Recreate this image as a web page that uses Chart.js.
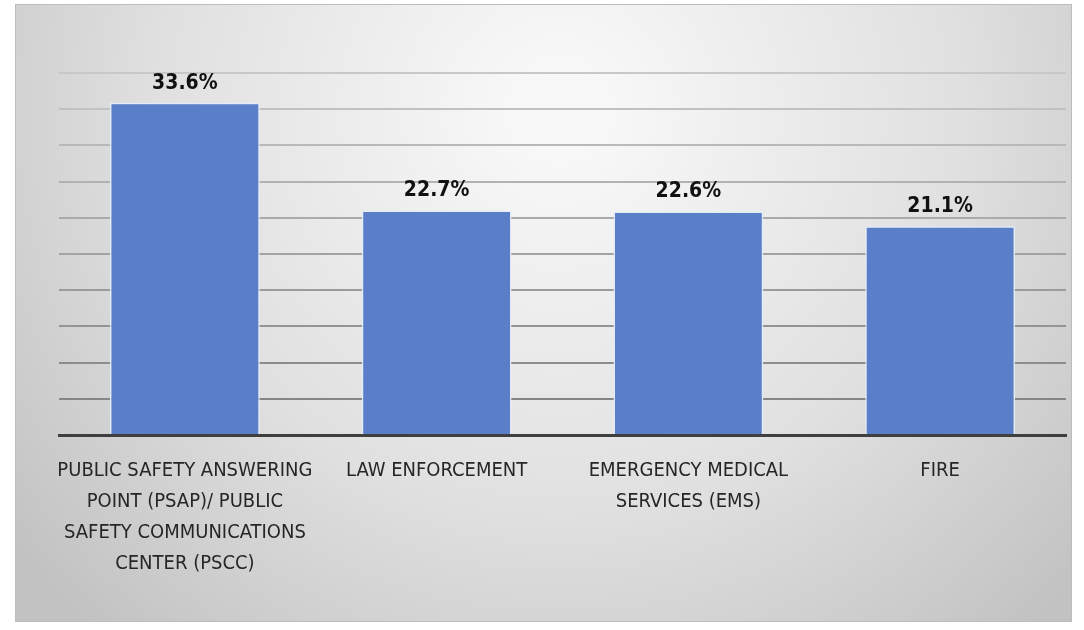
<!DOCTYPE html>
<html>
<head>
<meta charset="utf-8">
<script src="https://cdn.jsdelivr.net/npm/chart.js@4"></script>
<style>
  html, body { margin: 0; padding: 0; background: #fff; }
  #wrap { width: 1084px; height: 630px; position: relative; }
</style>
</head>
<body>
<div id="wrap"><canvas id="chartBar"></canvas></div>
<script>
// categories, one array per wrapped label
const categories = [
    ['PUBLIC SAFETY ANSWERING', 'POINT (PSAP)/ PUBLIC', 'SAFETY COMMUNICATIONS', 'CENTER (PSCC)'],
    ['LAW ENFORCEMENT'],
    ['EMERGENCY MEDICAL', 'SERVICES (EMS)'],
    ['FIRE']
]
const shares = [33.6, 22.7, 22.6, 21.1]
const axisMax = 36.6 // top gridline
const gridCount = 11

const FONT = '"Liberation Sans Narrow", "DejaVu Sans Condensed", "Liberation Sans", sans-serif'

// grey panel with a soft radial light, like the office chart area
const panelBg = {
    id: 'panelBg',
    beforeDraw(chart) {
        const c = chart.ctx
        const x0 = 15, y0 = 4, x1 = 1072, y1 = 622
        c.save()
        const g = c.createRadialGradient(560, 110, 40, 560, 110, 700)
        g.addColorStop(0, '#f8f8f8')
        g.addColorStop(0.55, '#e0e0e0')
        g.addColorStop(1, '#c2c2c2')
        c.fillStyle = g
        c.fillRect(x0, y0, x1 - x0, y1 - y0)
        c.strokeStyle = '#bdbdbd'
        c.lineWidth = 1
        c.strokeRect(x0 + 0.5, y0 + 0.5, x1 - x0 - 1, y1 - y0 - 1)
        c.restore()
    }
}

// percent labels above each bar
const valueLabels = {
    id: 'valueLabels',
    afterDatasetsDraw(chart) {
        const c = chart.ctx
        const meta = chart.getDatasetMeta(0)
        c.save()
        c.font = 'bold 21px ' + FONT
        c.fillStyle = '#111'
        c.textAlign = 'center'
        c.textBaseline = 'bottom'
        meta.data.forEach((bar, i) => {
            c.fillText(shares[i].toFixed(1) + '%', bar.x, bar.y - 9)
        })
        c.restore()
    }
}

const data = {
    labels: categories,
    datasets: [{
        data: shares,
        backgroundColor: '#5a7fc8',
        borderColor: '#e4ecf8',
        borderWidth: 1.5,
        borderSkipped: 'bottom',
        categoryPercentage: 0.595,
        barPercentage: 1
    }]
}

const config = {
    type: 'bar',
    data: data,
    options: {
        responsive: true,
        maintainAspectRatio: false,
        animation: false,
        layout: { padding: { left: 59, right: 18, top: 73, bottom: 0 } },
        plugins: {
            legend: { display: false },
            tooltip: { enabled: false }
        },
        scales: {
            x: {
                grid: { display: false, drawTicks: false },
                border: { display: true, color: '#3f3f3f', width: 3 },
                ticks: {
                    color: '#262626',
                    padding: 20,
                    maxRotation: 0,
                    autoSkip: false,
                    font: { family: FONT, size: 20, lineHeight: 1.55 }
                },
                afterFit: (s) => { s.height = 195 }
            },
            y: {
                min: 0,
                max: axisMax,
                ticks: { display: false, count: gridCount },
                border: { display: false },
                grid: {
                    drawTicks: false,
                    lineWidth: 2,
                    color: (ctx) => {
                        if (ctx.index === 0) return 'rgba(0,0,0,0)'
                        // lines fade toward the lit top of the panel
                        const t = ctx.index / (gridCount - 1)
                        const v = Math.round(125 + t * 75)
                        return `rgb(${v},${v},${v})`
                    }
                }
            }
        }
    },
    plugins: [panelBg, valueLabels]
}

const ctx = document.getElementById('chartBar').getContext('2d')
const chart = new Chart(ctx, config)
</script>
</body>
</html>
